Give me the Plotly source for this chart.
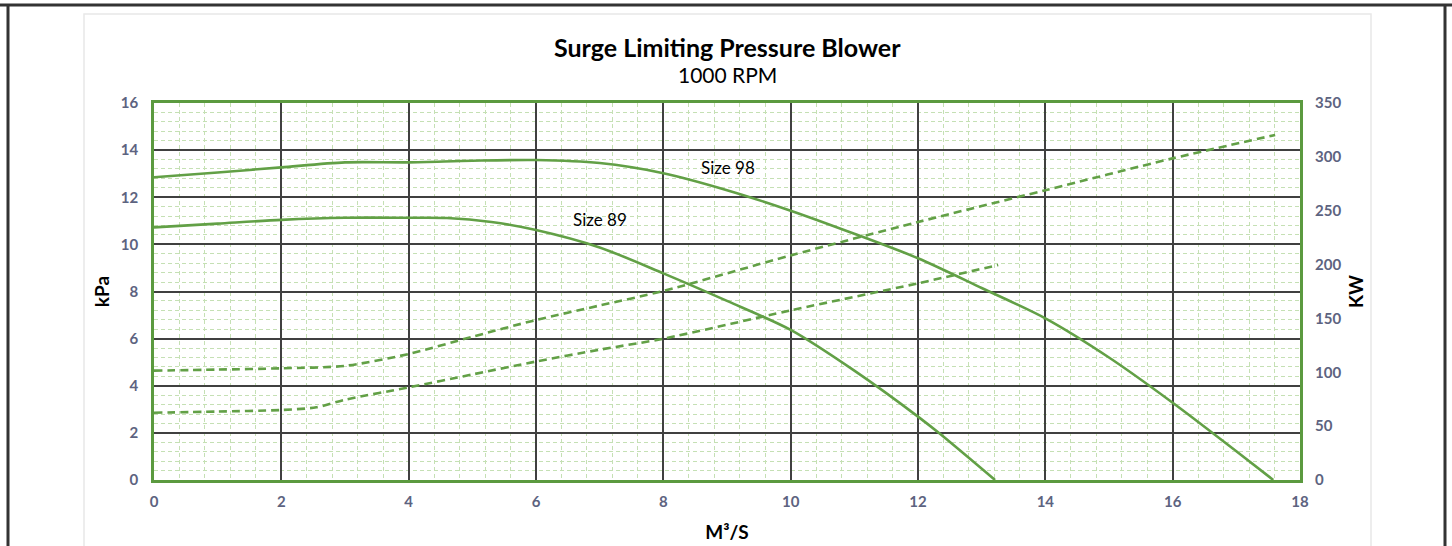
import plotly.graph_objects as go

# ---- data ----
flow_98_kpa = [0, 1, 2, 3, 4, 5, 6, 7, 8, 9, 10, 11, 12, 13, 14, 15, 16, 17, 17.58]
kpa_98 = [12.85, 13.05, 13.27, 13.48, 13.48, 13.55, 13.58, 13.45, 13.02, 12.3, 11.43, 10.45, 9.41, 8.15, 6.86, 5.2, 3.28, 1.22, 0]

flow_89_kpa = [0, 1, 2, 3, 4, 4.6, 5.3, 6, 7, 8, 9, 10, 11, 12, 12.34, 13.21]
kpa_89 = [10.72, 10.88, 11.04, 11.13, 11.13, 11.12, 10.95, 10.61, 9.87, 8.77, 7.6, 6.37, 4.64, 2.69, 1.97, 0]

flow_98_kw = [0, 1, 2, 3, 4, 5, 6, 7, 8, 10, 12, 14, 16, 17.61]
kw_98 = [101.5, 102.5, 103.7, 106, 117, 133, 148.5, 162, 175.5, 208.5, 239.5, 269, 298.6, 320.3]

flow_89_kw = [0, 1, 2, 2.55, 3, 4, 5, 6, 7, 8, 10, 12, 13.26]
kw_89 = [62.5, 63.5, 65, 67.5, 74.5, 86, 98, 110, 121, 131.2, 157.5, 182.6, 199.6]

x_ticks = [0, 2, 4, 6, 8, 10, 12, 14, 16, 18]
y_ticks = [0, 2, 4, 6, 8, 10, 12, 14, 16]
y2_ticks = [0, 50, 100, 150, 200, 250, 300, 350]

labels = ["Size 98", "Size 89"]
label_x = [9.02, 7.0]
label_y = [13.28, 11.04]

# ---- styling ----
FONT = "Lato"
GREEN = "#62a046"
BORDER = "#5b9a3f"
TICKC = "#5d6380"
W, H = 1452, 546
L, R, T, B = 154, 152, 103, 66
pw, ph = W - L - R, H - T - B


def px_x(p):
    return (p - L) / pw


def px_y(p):
    return (H - B - p) / ph


fig = go.Figure()
line_kw = dict(color=GREEN, width=2.6, shape="spline", smoothing=0.8)
fig.add_trace(go.Scatter(x=flow_98_kpa, y=kpa_98, mode="lines", line=line_kw, yaxis="y"))
fig.add_trace(go.Scatter(x=flow_89_kpa, y=kpa_89, mode="lines", line=line_kw, yaxis="y"))
dash_kw = dict(color=GREEN, width=2.6, dash="8px,5px", shape="spline", smoothing=0.8)
fig.add_trace(go.Scatter(x=flow_98_kw, y=kw_98, mode="lines", line=dash_kw, yaxis="y2"))
fig.add_trace(go.Scatter(x=flow_89_kw, y=kw_89, mode="lines", line=dash_kw, yaxis="y2"))

minor = dict(dtick=0.4, showgrid=True, gridcolor="#c5e0b4", griddash="4px,3px", gridwidth=1, ticklen=0)
tickfont = dict(family=FONT, size=15, color=TICKC, weight="bold")
titlefont = dict(family=FONT, size=19, color="black", weight="bold")

fig.update_layout(
    width=W, height=H,
    margin=dict(l=L, r=R, t=T, b=B),
    paper_bgcolor="white", plot_bgcolor="white",
    showlegend=False,
    font=dict(family=FONT),
    xaxis=dict(
        range=[0, 18], tickvals=x_ticks, showgrid=True, gridcolor="#404040", gridwidth=1.5,
        minor=minor, showline=True, linecolor=BORDER, linewidth=2.5, mirror=True,
        zeroline=False, ticks="", ticklabelstandoff=6, tickfont=tickfont, automargin=False,
        title=dict(text="M³/S", font=titlefont, standoff=17),
    ),
    yaxis=dict(
        range=[0, 16], tickvals=y_ticks, showgrid=True, gridcolor="#404040", gridwidth=1.5,
        minor=minor, showline=True, linecolor=BORDER, linewidth=2.5, mirror=True,
        zeroline=False, ticks="", ticklabelstandoff=10, tickfont=tickfont, automargin=False,
        title=dict(text="kPa", font=titlefont, standoff=7),
    ),
    yaxis2=dict(
        range=[0, 350], tickvals=y2_ticks, overlaying="y", side="right", showgrid=False,
        zeroline=False, ticks="", ticklabelstandoff=14, tickfont=tickfont, automargin=False,
        title=dict(text="KW", font=titlefont, standoff=9),
    ),
)

# outer frame (top line across the full width, two side lines) and chart area box
frame = dict(color="#333333", width=3)
fig.add_shape(type="line", xref="paper", yref="paper",
              x0=px_x(0), x1=px_x(W), y0=px_y(5), y1=px_y(5), line=frame)
fig.add_shape(type="line", xref="paper", yref="paper",
              x0=px_x(8), x1=px_x(8), y0=px_y(5), y1=px_y(H + 10), line=frame)
fig.add_shape(type="line", xref="paper", yref="paper",
              x0=px_x(1445), x1=px_x(1445), y0=px_y(5), y1=px_y(H + 10), line=frame)
fig.add_shape(type="rect", xref="paper", yref="paper",
              x0=px_x(84), x1=px_x(1371), y0=px_y(600), y1=px_y(14),
              line=dict(color="#e8e8e8", width=1.5), layer="below")

# titles
fig.add_annotation(text="<b>Surge Limiting Pressure Blower</b>", xref="paper", yref="paper",
                   x=px_x(727), y=px_y(47), xanchor="center", yanchor="middle", showarrow=False,
                   font=dict(family=FONT, size=25, color="black"))
fig.add_annotation(text="1000 RPM", xref="paper", yref="paper",
                   x=px_x(727), y=px_y(74), xanchor="center", yanchor="middle", showarrow=False,
                   font=dict(family=FONT, size=21, color="black"))

for t, lx, ly in zip(labels, label_x, label_y):
    fig.add_annotation(text=t, x=lx, y=ly, xref="x", yref="y", xanchor="center", yanchor="middle",
                       showarrow=False, font=dict(family=FONT, size=17, color="black"))

fig.write_html("out.html", config={"displayModeBar": False},
               post_script="document.body.style.margin='0px';")
